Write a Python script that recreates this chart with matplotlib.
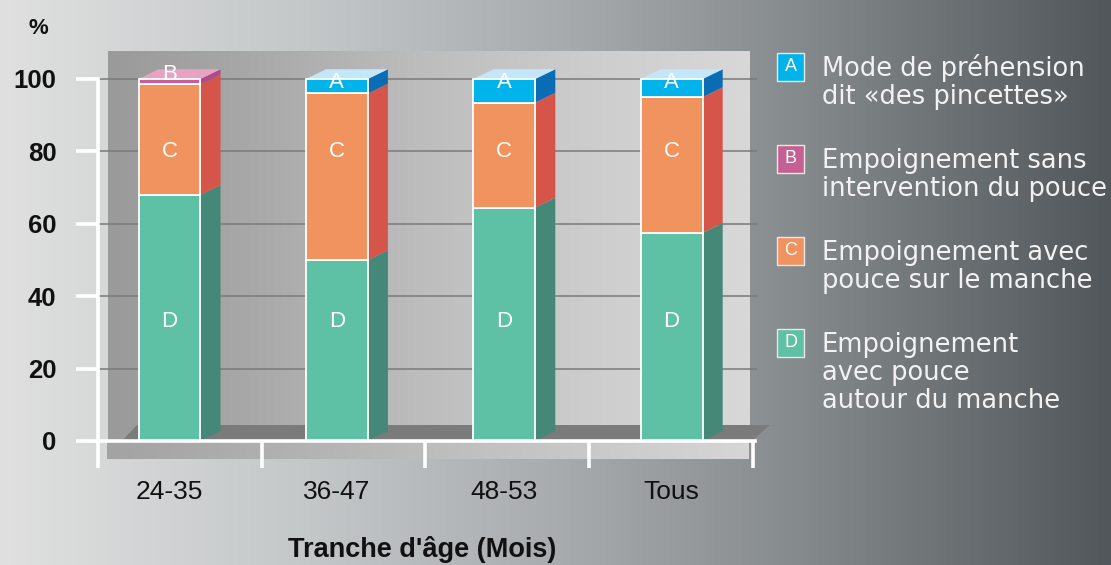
import numpy as np
import matplotlib
matplotlib.use('Agg')
import matplotlib.pyplot as plt
from matplotlib.patches import Rectangle, Polygon

plt.rcParams['font.family'] = ['Liberation Sans', 'DejaVu Sans']

# ---- data (percent) ----
categories = ['24-35', '36-47', '48-53', 'Tous']
seg_D = [68, 50, 64.5, 57.5]
seg_C = [30.5, 46, 29, 37.5]
seg_B = [1.5, 0, 0, 0]
seg_A = [0, 4, 6.5, 5]
yticks = [0, 20, 40, 60, 80, 100]
legend_keys = ['A', 'B', 'C', 'D']
legend_text = [['Mode de préhension', 'dit «des pincettes»'],
               ['Empoignement sans', 'intervention du pouce'],
               ['Empoignement avec', 'pouce sur le manche'],
               ['Empoignement', 'avec pouce', 'autour du manche']]

# front, side, top colours for each segment
cols = {'A': ('#00b3ea', '#0a6db4', '#c4e6f8'),
        'B': ('#c65f94', '#b04b8a', '#e7a3bf'),
        'C': ('#f0935f', '#d5554a', '#f6c0a0'),
        'D': ('#5ec0a5', '#458878', '#a6dccd')}
label_y = {'D': 33, 'C': 80, 'B': 101.2, 'A': 98.9}

W, H = 1111, 565
fig = plt.figure(figsize=(W / 100, H / 100), dpi=100)

# background gradient (pixel coords)
bg = fig.add_axes([0, 0, 1, 1], zorder=-1)
bg.set_xlim(0, W); bg.set_ylim(H, 0); bg.axis('off')
gx = np.linspace(0, 1, 512)
stops = [0, .27, .5, .72, 1]
rgb = np.array([[224, 224, 224], [196, 200, 201], [169, 172, 174],
                [133, 138, 140], [82, 87, 92]]) / 255
grad = np.stack([np.interp(gx, stops, rgb[:, k]) for k in range(3)], -1)[None]
bg.imshow(grad, extent=(0, W, H, 0), aspect='auto', zorder=0)

# main axes
x0, x1 = -0.427, 3.498
y0, y1 = -10, 112
ax = fig.add_axes([98 / W, (H - 477.2) / H, 657 / W, (477.2 - 35.56) / H])
ax.set_xlim(x0, x1); ax.set_ylim(y0, y1)
ax.patch.set_alpha(0)

# back wall, floor and front strip
wstops = [0, .22, .49, .77, 1]
wgrey = np.array([154, 168, 189, 206, 216]) / 255
wall = np.interp(gx, wstops, wgrey)
wall = np.stack([wall] * 3, -1)[None]
ax.imshow(wall, extent=(-0.367, 3.467, 0, 107.5), aspect='auto', zorder=0)
strip = np.stack([np.interp(gx, [0, 1], [163 / 255, 214 / 255])] * 3, -1)[None]
ax.imshow(strip, extent=(-0.373, 3.461, -4.97, 0), aspect='auto', zorder=0.5,
          clip_on=False)
ax.add_patch(Polygon([(-0.284, 0), (3.48, 0), (3.587, 4.42), (-0.194, 4.42)],
                     closed=True, fc='#7b7b7b', ec='none', zorder=1.5, clip_on=False))
ax.hlines(yticks[1:], x0, 3.51, colors='#7a7a7a', lw=1.1, zorder=1.2, clip_on=False)

# stacked pseudo-3D bars
xs = np.arange(len(categories))
w, dx, dy = 0.37, 0.12, 2.7
segs = [('D', seg_D), ('C', seg_C), ('B', seg_B), ('A', seg_A)]
for i, xc in enumerate(xs):
    xl, xr = xc - w / 2, xc + w / 2
    bottom = 0
    top_key = None
    for key, vals in segs:
        v = vals[i]
        if v <= 0:
            continue
        front, side, _ = cols[key]
        ax.add_patch(Polygon([(xr, bottom), (xr + dx, bottom + dy),
                              (xr + dx, bottom + v + dy), (xr, bottom + v)],
                             closed=True, fc=side, ec='none', zorder=2.5))
        ax.add_patch(Rectangle((xl, bottom), w, v, fc=front, ec='white',
                               lw=1.3, zorder=3))
        ax.text(xc, label_y[key], key, color='white', fontsize=16,
                ha='center', va='center', zorder=4)
        bottom += v
        top_key = key
    ax.add_patch(Polygon([(xl, bottom), (xl + dx, bottom + dy),
                          (xr + dx, bottom + dy), (xr, bottom)],
                         closed=True, fc=cols[top_key][2], ec='none', zorder=2.6))

# axes styling
for s in ['top', 'right']:
    ax.spines[s].set_visible(False)
ax.spines['bottom'].set_position(('data', 0))
ax.spines['left'].set_bounds(0, 100)
for s in ['bottom', 'left']:
    ax.spines[s].set_color('white')
    ax.spines[s].set_linewidth(2.6)
    ax.spines[s].set_zorder(5)

bounds = np.linspace(-0.427, 3.486, 5)
ax.set_xticks(bounds)
ax.set_xticklabels([])
ax.set_xticks(xs, minor=True)
ax.set_xticklabels(categories, minor=True)
ax.tick_params(axis='x', which='major', direction='out', length=19.4,
               width=2.6, color='white')
ax.tick_params(axis='x', which='minor', length=0, pad=28, labelsize=19,
               labelcolor='#111111')
ax.set_yticks(yticks)
ax.set_yticklabels([str(t) for t in yticks], fontweight='bold')
ax.tick_params(axis='y', direction='out', length=15.8, width=2.6, color='white',
               pad=14, labelsize=18.5, labelcolor='#111111')

# texts and legend (pixel coords)
bg.text(38, 29, '%', fontsize=16, fontweight='bold', color='#111111',
        ha='center', va='center')
bg.text(422, 557, "Tranche d'âge (Mois)", fontsize=19.5, fontweight='bold',
        color='#111111', ha='center', va='baseline')
for k, (key, lines) in enumerate(zip(legend_keys, legend_text)):
    base = 76 + 92 * k
    bg.add_patch(Rectangle((777, base - 9.5 - 14), 27, 28, fc=cols[key][0],
                           ec='#e8e8e8', lw=1, zorder=2))
    bg.text(790.5, base - 9.5, key, color='white', fontsize=13,
            ha='center', va='center', zorder=3)
    for j, line in enumerate(lines):
        bg.text(822, base + 28 * j, line, color='#f2f2f2', fontsize=18.5,
                family='DejaVu Sans', ha='left', va='baseline', zorder=3)

fig.savefig('out.png', dpi=100)
